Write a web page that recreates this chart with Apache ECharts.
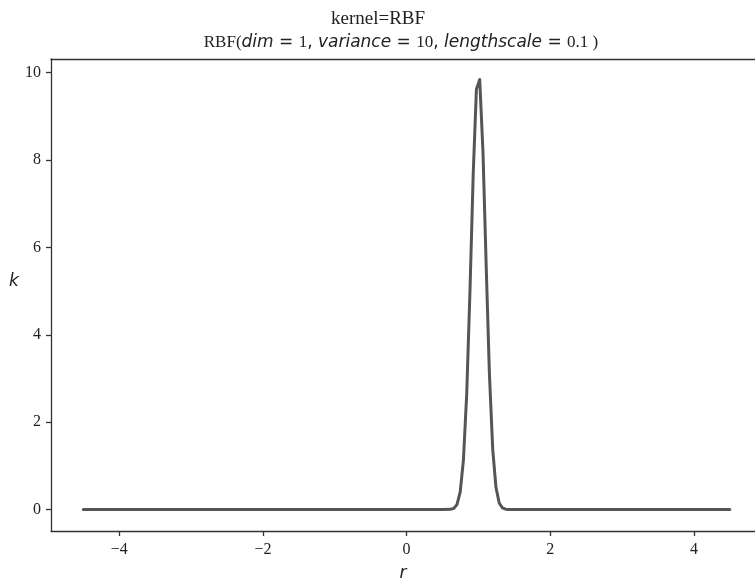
<!DOCTYPE html>
<html>
<head>
<meta charset="utf-8">
<script src="https://cdn.jsdelivr.net/npm/echarts@6/dist/echarts.min.js"></script>
<style>html,body{margin:0;padding:0;background:#fff;}#c{width:755px;height:582px;}</style>
</head>
<body>
<div id="c"></div>
<script>
// values
var rValues = [-4.5, -3.0, -1.5, 0.0, 0.5, 0.611, 0.656, 0.701, 0.746, 0.791, 0.837, 0.882, 0.927, 0.972, 1.018, 1.063, 1.108, 1.153, 1.199, 1.244, 1.289, 1.334, 1.379, 1.425, 1.5, 2.5, 3.5, 4.5];
var kValues = [0.0, 0.0, 0.0, 0.0, 0.0, 0.005, 0.027, 0.114, 0.40, 1.13, 2.65, 4.99, 7.66, 9.62, 9.84, 8.20, 5.58, 3.10, 1.38, 0.51, 0.15, 0.04, 0.008, 0.001, 0.0, 0.0, 0.0, 0.0];
var xTicks = [-4, -2, 0, 2, 4];
var yTicks = [0, 2, 4, 6, 8, 10];

var points = rValues.map(function (r, i) { return [r, kValues[i]]; });
var chart = echarts.init(document.getElementById('c'), null, {renderer: 'canvas'});
var serif = '"Liberation Serif", "DejaVu Serif", serif';
var sans = '"DejaVu Sans", sans-serif';
var frame = '#333333';
var txt = '#222222';
chart.setOption({
  backgroundColor: '#ffffff',
  animation: false,
  title: [
    {text: 'kernel=RBF', left: 373, top: 5, textAlign: 'center',
     textStyle: {fontFamily: serif, fontSize: 19, fontWeight: 'normal', color: txt}},
    {text: '{s|RBF(}{i|dim}{n| = }{s|1}{n|, }{i|variance}{n| = }{s|10}{n|, }{i|lengthscale}{n| = }{s|0.1 )}',
     left: 396, top: 29, textAlign: 'center',
     textStyle: {fontWeight: 'normal', rich: {
       s: {fontFamily: serif, fontSize: 17, fontWeight: 'normal', color: txt},
       i: {fontFamily: sans, fontStyle: 'italic', fontSize: 17, fontWeight: 'normal', color: txt},
       n: {fontFamily: sans, fontSize: 17, fontWeight: 'normal', color: txt}
     }}}
  ],
  graphic: [{
    type: 'text', x: 14, y: 282,
    style: {text: 'k', fontFamily: sans, fontStyle: 'italic', fontSize: 17, fill: txt, align: 'center', verticalAlign: 'middle'}
  }],
  grid: {left: 51, right: 0, top: 59, bottom: 51, show: false, outerBoundsMode: 'none', containLabel: false},
  xAxis: [{
    type: 'value', min: -4.95, max: 4.85,
    name: 'r', nameLocation: 'middle', nameGap: 34,
    nameTextStyle: {fontFamily: sans, fontStyle: 'italic', fontSize: 17, color: txt},
    axisLine: {show: true, onZero: false, lineStyle: {color: frame, width: 1.3}},
    axisTick: {show: true, length: 5, customValues: xTicks, lineStyle: {color: frame, width: 1.3}},
    axisLabel: {customValues: xTicks, margin: 11, fontFamily: serif, fontSize: 16, color: txt,
      formatter: function (v) { return v < 0 ? '\u2212' + Math.abs(v) : String(v); }},
    splitLine: {show: false}
  }, {
    type: 'value', min: -4.95, max: 4.85, position: 'top',
    axisLine: {show: true, onZero: false, lineStyle: {color: frame, width: 1.3}},
    axisTick: {show: false}, axisLabel: {show: false}, splitLine: {show: false}
  }],
  yAxis: {
    type: 'value', min: -0.49, max: 10.31,
    axisLine: {show: true, onZero: false, lineStyle: {color: frame, width: 1.3}},
    axisTick: {show: true, length: 5, customValues: yTicks, lineStyle: {color: frame, width: 1.3}},
    axisLabel: {customValues: yTicks, margin: 10, fontFamily: serif, fontSize: 16, color: txt},
    splitLine: {show: false}
  },
  series: [{
    type: 'line', data: points, showSymbol: false, smooth: false,
    lineStyle: {color: '#555555', width: 3, join: 'round', cap: 'round'}
  }]
});
</script>
</body>
</html>
